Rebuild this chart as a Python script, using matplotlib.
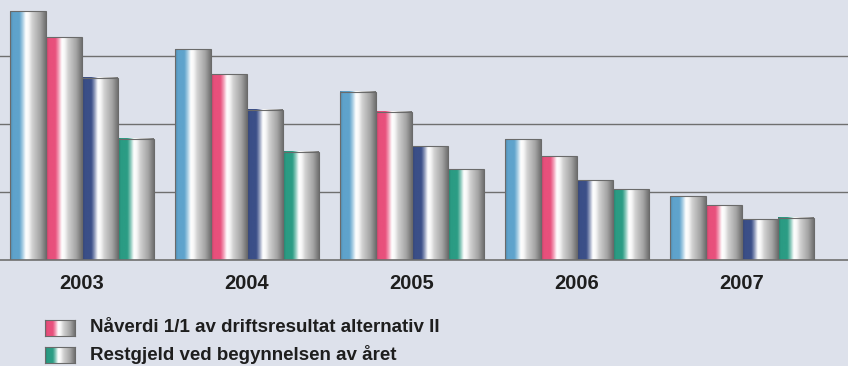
import numpy as np
import matplotlib.pyplot as plt
from matplotlib.colors import LinearSegmentedColormap, to_rgb

years = ['2003', '2004', '2005', '2006', '2007']
series_colors = ['#5fa3cc', '#e8507c', '#3b4f88', '#2b9c84']
values = [
    [3.66, 3.10, 2.47, 1.77, 0.94],
    [3.27, 2.73, 2.18, 1.52, 0.80],
    [2.68, 2.21, 1.67, 1.17, 0.60],
    [1.78, 1.59, 1.33, 1.04, 0.62],
]
legend_labels = ['Nåverdi 1/1 av driftsresultat alternativ II',
                 'Restgjeld ved begynnelsen av året']
legend_colors = [series_colors[1], series_colors[3]]

bg = '#dde1eb'


def cylinder_cmap(color):
    c = to_rgb(color)
    dark = tuple(0.85 * v for v in c)
    light = tuple(0.5 * v + 0.5 for v in c)
    return LinearSegmentedColormap.from_list('cyl', [
        (0.00, dark),
        (0.08, c),
        (0.26, c),
        (0.36, light),
        (0.44, (1, 1, 1)),
        (0.52, (0.97, 0.97, 0.97)),
        (0.62, (0.82, 0.82, 0.82)),
        (0.85, (0.64, 0.64, 0.64)),
        (1.00, (0.44, 0.44, 0.44)),
    ])


grad = np.linspace(0, 1, 96).reshape(1, -1)

fig = plt.figure(figsize=(8.48, 3.66), dpi=100)
fig.patch.set_facecolor(bg)
ax = fig.add_axes([0, 0.29, 1, 0.71])
ax.set_facecolor(bg)

x = np.arange(len(years))
width = 0.218
for i, vals in enumerate(values):
    offs = (i - 1.5) * width
    bars = ax.bar(x + offs, vals, width, facecolor='none',
                  edgecolor='#6a6a6a', linewidth=0.8, zorder=3)
    cmap = cylinder_cmap(series_colors[i])
    for b in bars:
        x0, y0 = b.get_x(), b.get_y()
        ax.imshow(grad, cmap=cmap, aspect='auto', zorder=2,
                  extent=(x0, x0 + b.get_width(), y0, y0 + b.get_height()),
                  interpolation='bicubic')

ax.set_xlim(-0.497, 4.645)
ax.set_ylim(0, 3.82)
ax.set_yticks([1, 2, 3])
ax.yaxis.grid(True, color='#6f6f6f', linewidth=1.0, zorder=1)
ax.set_axisbelow(True)
ax.tick_params(left=False, bottom=False, labelleft=False, labelbottom=False)
for side in ['top', 'right', 'left']:
    ax.spines[side].set_visible(False)
ax.spines['bottom'].set_color('#6f6f6f')
ax.spines['bottom'].set_linewidth(1.2)

for xi, yr in zip(x, years):
    ax.annotate(yr, (xi, 0), xytext=(0, -17), textcoords='offset points',
                ha='center', va='center', fontsize=14.5, fontweight='bold',
                family='Liberation Sans', color='#1e1e1e')

# legend (custom, gradient boxes)
W, H = 848, 366
for k, (lab, col) in enumerate(zip(legend_labels, legend_colors)):
    yc = 328 + k * 27
    lax = fig.add_axes([45 / W, 1 - (yc + 8) / H, 30 / W, 16 / H])
    lax.imshow(grad, cmap=cylinder_cmap(col), aspect='auto',
               interpolation='bicubic')
    lax.set_xticks([])
    lax.set_yticks([])
    for s in lax.spines.values():
        s.set_color('#6a6a6a')
        s.set_linewidth(0.8)
    fig.text(90 / W, 1 - yc / H, lab, ha='left', va='center',
             fontsize=13.5, fontweight='bold', family='Liberation Sans',
             color='#1e1e1e')

fig.savefig('out.png', dpi=100, facecolor=bg)
